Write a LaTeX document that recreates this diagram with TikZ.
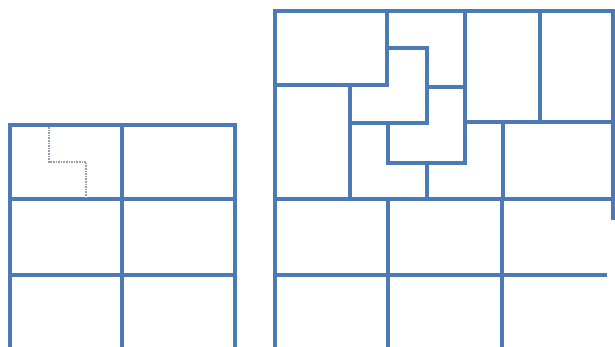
\documentclass[tikz,border=0pt]{standalone}
\definecolor{gridblue}{RGB}{76,122,182}
\definecolor{dotgray}{RGB}{150,160,172}
\tikzset{
  wall/.style={draw=gridblue, line width=4pt, line cap=rect},
  thinwall/.style={draw=gridblue, line width=3.4pt, line cap=rect},
  hint/.style={draw=dotgray, line width=1.6pt, densely dotted}
}
\begin{document}
\begin{tikzpicture}[x=1pt,y=-1pt]
\useasboundingbox (0,0) rectangle (615,346);
\clip (0,0) rectangle (615,346);
\fill[white] (0,0) rectangle (615,346);
% ---------- left grid ----------
\draw[thinwall] (10,360) -- (10,125) -- (235,125) -- (235,360);
\draw[wall] (122,125) -- (122,360);
\draw[wall] (10,199) -- (235,199);
\draw[wall] (10,275) -- (235,275);
\draw[hint] (49,127) -- (49,162) -- (86,162) -- (86,197);
% ---------- right figure: top part ----------
\draw[thinwall] (275,360) -- (275,11) -- (613,11) -- (613,218);
\draw[wall] (275,85) -- (387,85) -- (387,11);
\draw[wall] (387,48) -- (427,48) -- (427,123) -- (350,123);
\draw[wall] (350,85) -- (350,199);
\draw[wall] (427,87) -- (465,87);
\draw[wall] (465,11) -- (465,163);
\draw[wall] (540,11) -- (540,122);
\draw[wall] (465,122) -- (613,122);
\draw[wall] (388,123) -- (388,163) -- (465,163);
\draw[wall] (427,163) -- (427,199);
\draw[wall] (503,122) -- (503,199);
% ---------- right figure: bottom grid ----------
\draw[wall] (275,199) -- (615,199);
\draw[wall] (275,275) -- (605,275);
\draw[wall] (388,199) -- (388,360);
\draw[wall] (502,199) -- (502,360);
\end{tikzpicture}
\end{document}
